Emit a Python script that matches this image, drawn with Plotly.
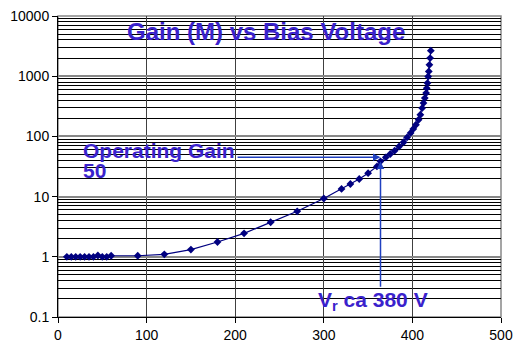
import math
import plotly.graph_objects as go

# ---- data ----
bias_voltage = [10, 15, 20, 25, 30, 35, 40, 45, 50, 55, 60, 90, 120, 150, 180, 210, 240, 270,
                300, 320, 330, 340, 350, 360, 364, 370, 375, 380, 385, 390, 394, 398, 401, 404,
                407, 409, 411, 412.5, 414, 415.5, 416.2, 417, 417.8, 418.5, 419.2, 420, 420.8]
gain = [1.0, 1.0, 1.0, 1.0, 1.0, 1.0, 1.0, 1.05, 1.0, 1.0, 1.04, 1.04, 1.1, 1.32, 1.76, 2.45,
        3.75, 5.7, 9.3, 13.4, 16.2, 19.6, 24.5, 31.7, 38.5, 45, 51, 58, 68, 80, 96, 114, 133,
        156, 189, 229, 296, 358, 433, 525, 633, 769, 989, 1200, 1545, 2000, 2650]

x_tick_vals = [0, 100, 200, 300, 400, 500]
x_tick_text = ["0", "100", "200", "300", "400", "500"]
y_tick_vals = [0.1, 1, 10, 100, 1000, 10000]
y_tick_text = ["0.1", "1", "10", "100", "1000", "10000"]

title_text = "Gain (M) vs Bias Voltage"
op_label_1 = "Operating Gain"
op_label_2 = "50"
vr_label = "V<sub>r</sub> ca 380 V"
operating_voltage = 364
operating_gain = 45
vr_line_bottom_gain = 0.3
arrow_start_voltage = 201

# minor grid positions (2..9 in each decade)
minor_vals = [k * 10 ** d for d in range(-1, 4) for k in range(2, 10)]

FONT = "Liberation Sans, Arial, sans-serif"
NAVY = "#000080"
TXT = "#3A22CC"
ARROW = "#2040C0"

fig = go.Figure()
fig.add_trace(go.Scatter(
    x=bias_voltage, y=gain, mode="lines+markers",
    line=dict(color=NAVY, width=1.2),
    marker=dict(symbol="diamond", size=6, color=NAVY),
    showlegend=False, hoverinfo="skip"))

fig.update_layout(
    width=514, height=351,
    margin=dict(l=58, r=13, t=16, b=34),
    paper_bgcolor="white", plot_bgcolor="white",
    font=dict(family=FONT, size=14, color="black"),
    xaxis=dict(range=[0, 500], tickmode="array", tickvals=x_tick_vals, ticktext=x_tick_text,
               showgrid=True, gridcolor="#404040", gridwidth=1, automargin=False,
               showline=True, linecolor="black", linewidth=1,
               ticks="outside", ticklen=5, tickcolor="black", zeroline=False),
    yaxis=dict(type="log", range=[-1, 4], tickmode="array", tickvals=y_tick_vals,
               ticktext=y_tick_text, automargin=False,
               showgrid=True, gridcolor="#888888", gridwidth=2,
               showline=True, linecolor="black", linewidth=1,
               ticks="outside", ticklen=5, tickcolor="black", zeroline=False,
               minor=dict(tickmode="array", tickvals=minor_vals, showgrid=True,
                          gridcolor="black", gridwidth=1, ticks="")),
)

# plot border (top / right in grey)
fig.add_shape(type="rect", xref="paper", yref="paper", x0=0, y0=0, x1=1, y1=1,
              line=dict(color="#888888", width=1.5), layer="below")

fig.add_annotation(text="<b>" + title_text + "</b>", xref="paper", yref="paper",
                   x=0.4695, y=0.95, xanchor="center", yanchor="middle", showarrow=False,
                   font=dict(family=FONT, size=24, color=TXT))
fig.add_annotation(text="<b>" + op_label_1 + "</b>", xref="paper", yref="paper",
                   x=(81 - 58) / 443, y=(317 - 150.5) / 301, xanchor="left", yanchor="middle",
                   showarrow=False, font=dict(family=FONT, size=21, color=TXT))
fig.add_annotation(text="<b>" + op_label_2 + "</b>", xref="paper", yref="paper",
                   x=(81 - 58) / 443, y=(317 - 170) / 301, xanchor="left", yanchor="middle",
                   showarrow=False, font=dict(family=FONT, size=21, color=TXT))
fig.add_annotation(text="<b>" + vr_label + "</b>", xref="paper", yref="paper",
                   x=(316 - 58) / 443, y=(317 - 301) / 301, xanchor="left", yanchor="middle",
                   showarrow=False, font=dict(family=FONT, size=21, color=TXT))

# arrows (log axis: annotation y in log10 units)
fig.add_annotation(x=operating_voltage, y=math.log10(operating_gain), xref="x", yref="y",
                   ax=arrow_start_voltage, ay=math.log10(operating_gain), axref="x", ayref="y",
                   showarrow=True, arrowhead=2, arrowsize=1, arrowwidth=1.5,
                   arrowcolor=ARROW, text="")
fig.add_annotation(x=operating_voltage, y=math.log10(operating_gain * 0.85), xref="x", yref="y",
                   ax=operating_voltage, ay=math.log10(vr_line_bottom_gain), axref="x", ayref="y",
                   showarrow=True, arrowhead=2, arrowsize=1, arrowwidth=1.5,
                   arrowcolor=ARROW, text="")

fig.write_html("out.html")
